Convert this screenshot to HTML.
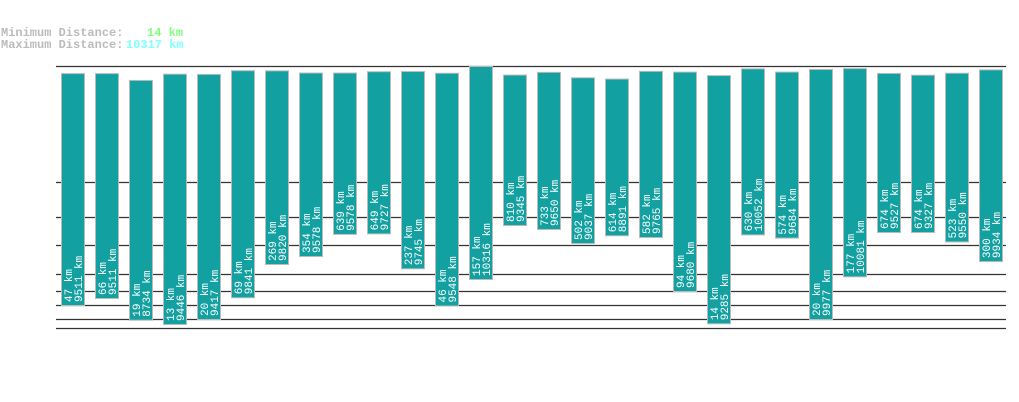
<!DOCTYPE html>
<html><head><meta charset="utf-8"><style>
body{margin:0;background:#fff;width:1019px;height:402px;overflow:hidden}
svg{display:block}
text{font-family:"Liberation Mono","DejaVu Sans Mono",monospace}
</style></head><body>
<svg id="chart" width="1019" height="402">
<text x="1" y="36" font-size="12" font-weight="bold" fill="#bbbbbb">Minimum Distance:</text>
<text x="147" y="36" font-size="12" font-weight="bold" fill="#80ff80">14 km</text>
<text x="1" y="48" font-size="12" font-weight="bold" fill="#bbbbbb">Maximum Distance:</text>
<text x="126" y="48" font-size="12" font-weight="bold" fill="#80ffff">10317 km</text>
<g id="grid"></g><g id="bars"></g>
</svg>
<script>
const mins=[47,66,19,13,20,69,269,354,639,649,237,46,157,810,733,502,614,582,94,14,630,574,20,177,674,674,523,300];
const maxs=[9511,9511,8734,9446,9417,9841,9820,9578,9578,9727,9745,9548,10316,9345,9650,9037,8891,9765,9680,9285,10052,9684,9977,10081,9527,9327,9550,9934];
const gridYs=[66,182,217,245,274,291,305,319,328];
const NS="http://www.w3.org/2000/svg";
function xPos(i){return 61+i*34;}
function yTop(v){return 66+(10317-v)*0.0088;}
const bk=[[13,324],[20,319],[47,305],[66,298],[94,291],[157,279],[269,264],[354,256],[502,243],[582,237],[674,232],[810,225],[1000,215]];
function yBot(v){
  if(v<=bk[0][0])return bk[0][1];
  for(let k=1;k<bk.length;k++){if(v<=bk[k][0]){const a=bk[k-1],b=bk[k];return a[1]+(v-a[0])/(b[0]-a[0])*(b[1]-a[1]);}}
  return bk[bk.length-1][1];
}
const grid=document.getElementById('grid');
gridYs.forEach((y,i)=>{
  const l=document.createElementNS(NS,'line');
  l.setAttribute('x1',56);l.setAttribute('x2',1006);l.setAttribute('y1',y+0.5);l.setAttribute('y2',y+0.5);
  l.setAttribute('stroke','#333');l.setAttribute('stroke-width',1.2);
  
  
  grid.appendChild(l);
});
const bars=document.getElementById('bars');
mins.forEach((mn,i)=>{
  const x=xPos(i),t=yTop(maxs[i]),b=yBot(mn);
  const g=document.createElementNS(NS,'g');
  
  
  const r=document.createElementNS(NS,'rect');
  r.setAttribute('x',x+0.5);r.setAttribute('y',t+0.5);r.setAttribute('width',23);r.setAttribute('height',b-t);
  r.setAttribute('fill','#12a0a0');r.setAttribute('stroke','#bbbbbb');r.setAttribute('stroke-width',1);
  
  
  g.appendChild(r);
  [[mn+' km',x+11],[maxs[i]+' km',x+21]].forEach(([s,tx],j)=>{
    const e=document.createElementNS(NS,'text');
    e.setAttribute('transform','translate('+tx+','+(b-3)+') rotate(-90)');
    e.setAttribute('font-size','11');e.setAttribute('fill','#ffffff');
    e.textContent=s;
    
    
    g.appendChild(e);
  });
  bars.appendChild(g);
});
</script>
</body></html>
